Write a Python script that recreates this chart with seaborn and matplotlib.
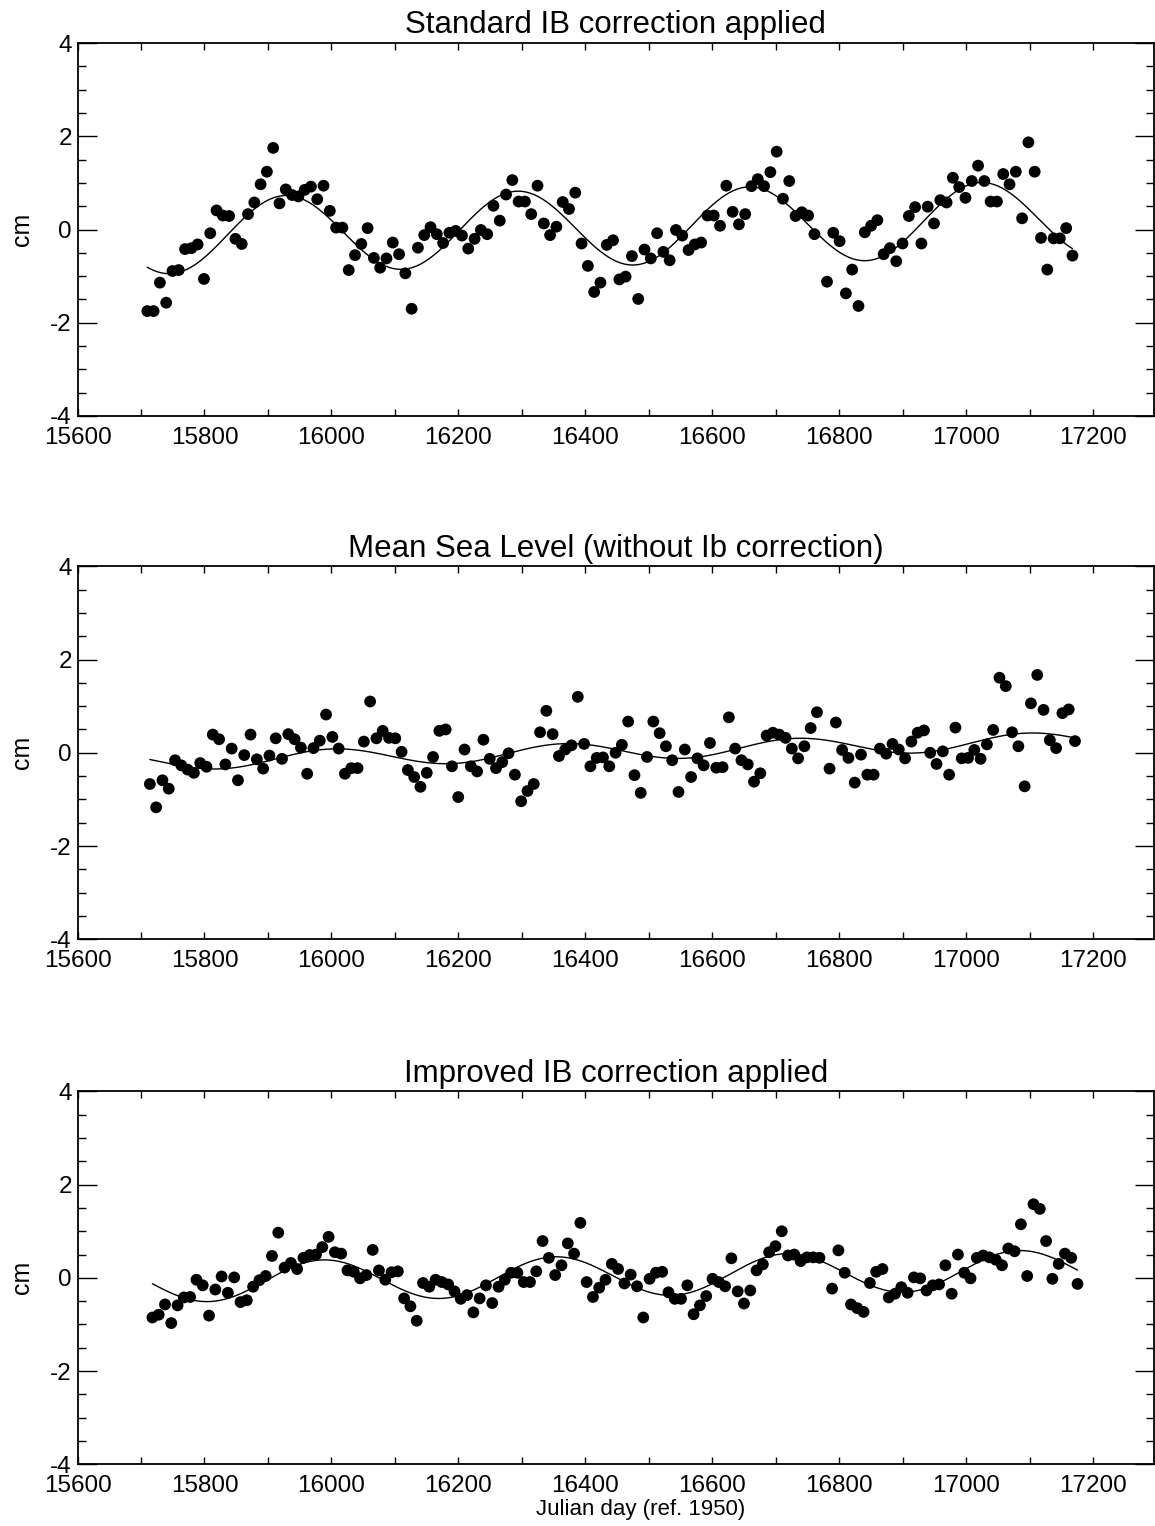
import numpy as np
import pandas as pd
import matplotlib
matplotlib.use("Agg")
import matplotlib.pyplot as plt
import seaborn as sns
from matplotlib.ticker import MultipleLocator

nan = np.nan

# Sea level anomalies (cm), one value per ~9.9156-day repeat cycle; cycle 108 missing
std_ib = [
    -1.75, -1.75, -1.14, -1.57, -0.89, -0.87, -0.42, -0.40, -0.32, -1.06,
    -0.08, 0.41, 0.30, 0.29, -0.20, -0.31, 0.33, 0.58, 0.97, 1.24,
    1.75, 0.56, 0.86, 0.74, 0.71, 0.85, 0.92, 0.65, 0.94, 0.40,
    0.04, 0.04, -0.87, -0.55, -0.31, 0.03, -0.61, -0.82, -0.62, -0.28,
    -0.53, -0.94, -1.70, -0.39, -0.12, 0.05, -0.10, -0.29, -0.07, -0.03,
    -0.13, -0.41, -0.20, -0.01, -0.10, 0.51, 0.19, 0.75, 1.06, 0.60,
    0.60, 0.33, 0.94, 0.13, -0.12, 0.06, 0.59, 0.44, 0.79, -0.30,
    -0.78, -1.34, -1.14, -0.33, -0.23, -1.07, -1.01, -0.57, -1.49, -0.43,
    -0.62, -0.08, -0.48, -0.66, -0.01, -0.13, -0.44, -0.32, -0.28, 0.30,
    0.30, 0.08, 0.94, 0.38, 0.11, 0.33, 0.93, 1.08, 0.93, 1.23,
    1.67, 0.66, 1.04, 0.29, 0.37, 0.30, -0.10, nan, -1.12, -0.07,
    -0.25, -1.37, -0.86, -1.64, -0.06, 0.08, 0.20, -0.53, -0.40, -0.68,
    -0.30, 0.29, 0.48, -0.30, 0.49, 0.13, 0.63, 0.58, 1.11, 0.91,
    0.68, 1.04, 1.37, 1.04, 0.60, 0.60, 1.19, 0.97, 1.24, 0.24,
    1.87, 1.24, -0.18, -0.86, -0.19, -0.19, 0.03, -0.56,
]

msl_no_ib = [
    -0.67, -1.17, -0.59, -0.77, -0.16, -0.27, -0.36, -0.43, -0.22, -0.30,
    0.39, 0.29, -0.25, 0.09, -0.59, -0.05, 0.39, -0.14, -0.34, -0.06,
    0.31, -0.13, 0.40, 0.29, 0.11, -0.45, 0.10, 0.26, 0.82, 0.34,
    0.09, -0.45, -0.33, -0.33, 0.24, 1.10, 0.31, 0.47, 0.32, 0.31,
    0.02, -0.37, -0.52, -0.73, -0.43, -0.09, 0.47, 0.50, -0.29, -0.95,
    0.07, -0.29, -0.40, 0.28, -0.13, -0.33, -0.20, -0.01, -0.47, -1.04,
    -0.82, -0.67, 0.44, 0.90, 0.40, -0.07, 0.07, 0.16, 1.20, 0.19,
    -0.29, -0.11, -0.10, -0.29, 0.00, 0.17, 0.67, -0.48, -0.86, -0.09,
    0.67, 0.42, 0.14, -0.16, -0.84, 0.07, -0.52, -0.12, -0.27, 0.21,
    -0.32, -0.31, 0.76, 0.09, -0.16, -0.25, -0.62, -0.44, 0.37, 0.43,
    0.39, 0.32, 0.09, -0.12, 0.14, 0.53, 0.87, nan, -0.34, 0.65,
    0.06, -0.11, -0.64, -0.04, -0.47, -0.47, 0.09, -0.02, 0.19, 0.07,
    -0.12, 0.24, 0.43, 0.48, 0.00, -0.24, 0.03, -0.47, 0.54, -0.12,
    -0.11, 0.06, -0.13, 0.18, 0.49, 1.61, 1.43, 0.44, 0.14, -0.72,
    1.06, 1.67, 0.92, 0.27, 0.10, 0.85, 0.93, 0.25,
]

improved_ib = [
    -0.85, -0.79, -0.57, -0.97, -0.59, -0.42, -0.41, -0.04, -0.16, -0.81,
    -0.25, 0.03, -0.32, 0.01, -0.52, -0.48, -0.19, -0.05, 0.04, 0.47,
    0.97, 0.22, 0.32, 0.19, 0.43, 0.49, 0.50, 0.66, 0.88, 0.55,
    0.52, 0.16, 0.13, -0.01, 0.06, 0.60, 0.16, -0.04, 0.12, 0.14,
    -0.44, -0.61, -0.92, -0.11, -0.19, -0.04, -0.09, -0.14, -0.29, -0.45,
    -0.37, -0.74, -0.44, -0.16, -0.54, -0.19, -0.04, 0.11, 0.11, -0.09,
    -0.09, 0.14, 0.79, 0.43, 0.06, 0.27, 0.74, 0.52, 1.18, -0.09,
    -0.41, -0.21, -0.04, 0.30, 0.19, -0.12, 0.07, -0.18, -0.85, -0.02,
    0.11, 0.13, -0.31, -0.45, -0.45, -0.16, -0.78, -0.59, -0.39, -0.02,
    -0.09, -0.18, 0.42, -0.29, -0.55, -0.27, 0.16, 0.29, 0.55, 0.68,
    1.00, 0.48, 0.50, 0.36, 0.44, 0.44, 0.43, nan, -0.23, 0.59,
    0.11, -0.57, -0.65, -0.73, -0.11, 0.13, 0.19, -0.42, -0.34, -0.20,
    -0.32, 0.01, -0.01, -0.27, -0.16, -0.14, 0.27, -0.34, 0.50, 0.11,
    -0.01, 0.43, 0.48, 0.44, 0.39, 0.27, 0.63, 0.57, 1.15, 0.04,
    1.58, 1.48, 0.79, -0.02, 0.30, 0.52, 0.43, -0.13,
]

titles = [
    "Standard IB correction applied",
    "Mean Sea Level (without Ib correction)",
    "Improved IB correction applied",
]
first_day = [15710.0, 15714.0, 15718.0]   # Julian day of first cycle in each panel
cycle_days = 9.9156                        # TOPEX/Poseidon repeat period
x_ticks = [15600, 15800, 16000, 16200, 16400, 16600, 16800, 17000, 17200]
y_ticks = [-4, -2, 0, 2, 4]
x_label = "Julian day (ref. 1950)"
y_label = "cm"

series = [std_ib, msl_no_ib, improved_ib]

sns.set_theme(style="ticks")
plt.rcParams["font.family"] = ["Liberation Sans", "DejaVu Sans"]
plt.rcParams["axes.unicode_minus"] = False

fig = plt.figure(figsize=(11.55, 15.26), dpi=100)
left, width, height = 0.0671, 0.932, 0.2444
bottoms = [0.7274, 0.3845, 0.0404]

for vals, title, d0, b in zip(series, titles, first_day, bottoms):
    ax = fig.add_axes([left, b, width, height])
    days = d0 + cycle_days * np.arange(len(vals))
    df = pd.DataFrame({"day": days, "cm": vals}).dropna()

    # least-squares fit: mean + trend + annual harmonic
    t = df["day"].to_numpy()
    y = df["cm"].to_numpy()
    w = 2 * np.pi / 365.25
    tm = t.mean()
    A = np.column_stack([np.ones_like(t), t - tm, np.cos(w * t), np.sin(w * t)])
    coef, *_ = np.linalg.lstsq(A, y, rcond=None)
    grid = np.linspace(t.min(), t.max(), 600)
    G = np.column_stack([np.ones_like(grid), grid - tm, np.cos(w * grid), np.sin(w * grid)])
    fit = pd.DataFrame({"day": grid, "cm": G @ coef})

    sns.lineplot(data=fit, x="day", y="cm", ax=ax, color="black", linewidth=1.0)
    sns.scatterplot(data=df, x="day", y="cm", ax=ax, color="black", s=72,
                    linewidth=0, edgecolor="none", zorder=3)

    ax.set_xlim(15600, 17296)
    ax.set_ylim(-4, 4)
    ax.set_xticks(x_ticks)
    ax.set_xticklabels([str(v) for v in x_ticks])
    ax.set_yticks(y_ticks)
    ax.set_yticklabels([str(v) for v in y_ticks])
    ax.xaxis.set_minor_locator(MultipleLocator(100))
    ax.yaxis.set_minor_locator(MultipleLocator(0.5))
    ax.tick_params(axis="both", which="both", direction="in", top=True, right=True,
                   width=1.0, color="black", labelsize=17.5, labelcolor="black")
    ax.tick_params(axis="y", which="major", length=14, pad=4)
    ax.tick_params(axis="y", which="minor", length=6)
    ax.tick_params(axis="x", which="both", length=5, pad=8)
    for sp in ax.spines.values():
        sp.set_visible(True)
        sp.set_linewidth(1.3)
        sp.set_color("black")
    ax.set_title(title, fontsize=22.5, pad=7, color="black")
    ax.set_ylabel(y_label, fontsize=18, color="black")
    ax.yaxis.set_label_coords(-0.040, 0.5)
    ax.set_xlabel("")
    ax.grid(False)
    last_ax = ax

last_ax.set_xlabel(x_label, fontsize=16, color="black")
last_ax.xaxis.set_label_coords(0.5235, -0.093)
last_ax.xaxis.label.set_va("top")

fig.savefig("out.png", dpi=100)
